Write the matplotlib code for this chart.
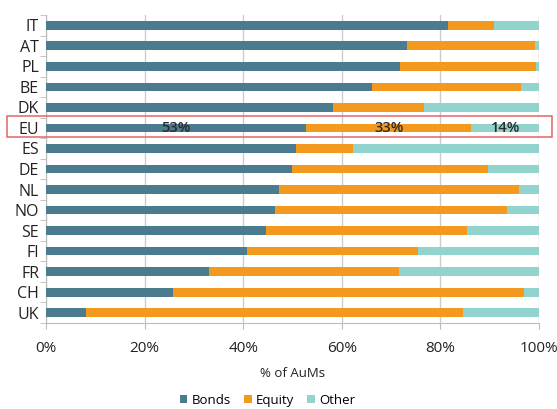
import matplotlib
matplotlib.use("Agg")
import matplotlib.pyplot as plt
from matplotlib.patches import Rectangle
import numpy as np

countries = ["IT", "AT", "PL", "BE", "DK", "EU", "ES", "DE", "NL", "NO", "SE", "FI", "FR", "CH", "UK"]
bonds  = [81.5, 73.3, 71.8, 66.1, 58.3, 52.7, 50.7, 50.0, 47.3, 46.5, 44.6, 40.7, 33.1, 25.8, 8.1]
equity = [9.4, 25.9, 27.7, 30.2, 18.4, 33.6, 11.5, 39.7, 48.7, 47.1, 40.9, 34.7, 38.6, 71.2, 76.5]
other  = [9.1, 0.8, 0.5, 3.7, 23.3, 13.7, 37.8, 10.3, 4.0, 6.4, 14.5, 24.6, 28.3, 3.0, 15.4]
eu_labels = ["53%", "33%", "14%"]
xticks = [0, 20, 40, 60, 80, 100]
xticklabels = ["0%", "20%", "40%", "60%", "80%", "100%"]

c_bonds = "#4A7B8E"
c_equity = "#F39A1E"
c_other = "#92D3CE"

plt.rcParams['font.family'] = ['Open Sans', 'DejaVu Sans']

fig = plt.figure(figsize=(5.57, 4.09), dpi=100)
ax = fig.add_axes([0.0826, 0.2103, 0.885, 0.753])

y = np.arange(len(countries))
b = np.array(bonds); e = np.array(equity); o = np.array(other)
h = 0.42
ax.barh(y, b, height=h, color=c_bonds, label="Bonds", zorder=3)
ax.barh(y, e, left=b, height=h, color=c_equity, label="Equity", zorder=3)
ax.barh(y, o, left=b + e, height=h, color=c_other, label="Other", zorder=3)

ax.set_ylim(len(countries) - 0.5, -0.5)
ax.set_xlim(0, 100)
ax.set_yticks(y)
ax.set_yticklabels(countries, fontsize=11.5, color="#222222")
ax.set_yticks(np.arange(-0.5, len(countries), 1), minor=True)
ax.tick_params(axis="y", which="major", length=0, pad=5)
ax.tick_params(axis="y", which="minor", length=4, color="#BBBBBB", direction="out")

ax.set_xticks(xticks)
ax.set_xticklabels(xticklabels, fontsize=11, color="#222222")
ax.tick_params(axis="x", which="major", length=4, color="#BBBBBB", direction="out", pad=9)
ax.set_xlabel("% of AuMs", fontsize=9.5, color="#222222", labelpad=8)

ax.grid(axis="x", color="#CCCCCC", linewidth=1, zorder=0)
for s in ["top", "right"]:
    ax.spines[s].set_visible(False)
for s in ["left", "bottom"]:
    ax.spines[s].set_color("#BBBBBB")

i = countries.index("EU")
centers = [b[i] / 2, b[i] + e[i] / 2, b[i] + e[i] + o[i] / 2]
for cx, lab in zip(centers, eu_labels):
    ax.text(cx, i, lab, ha="center", va="center", fontsize=10.5, color="#2A2A2A",
            fontweight="semibold", zorder=4)

# red highlight box around EU row
rect = Rectangle((7 / 557, 1 - 137 / 409), (552 - 7) / 557, (137 - 116) / 409,
                 transform=fig.transFigure, fill=False, edgecolor="#E06666", linewidth=1.1)
fig.patches.append(rect)

fig.legend(*ax.get_legend_handles_labels(), loc="center", bbox_to_anchor=(0.48, 0.022),
           ncol=3, frameon=False, fontsize=9.5, handlelength=0.6, handleheight=0.6,
           handletextpad=0.3, columnspacing=1.0, borderpad=0.1)

fig.savefig("out.png", dpi=100)
